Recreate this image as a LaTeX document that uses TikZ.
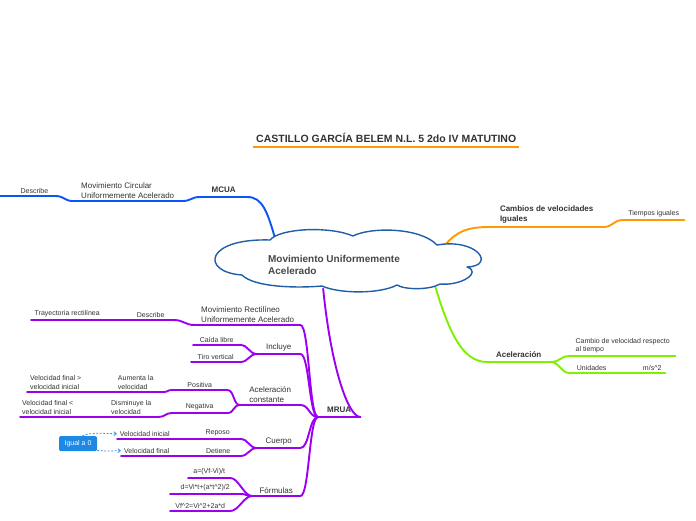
\documentclass[tikz,border=0pt]{standalone}
\usepackage{fontspec}
\setmainfont{Liberation Sans}
\usetikzlibrary{
  arrows.meta,
  shapes.geometric,
  calc
}
\definecolor{mmText}{HTML}{333333}
\definecolor{mmCloud}{HTML}{1F5FA6}
\definecolor{mmBlue}{HTML}{0A55F5}
\definecolor{mmOrange}{HTML}{FF9A00}
\definecolor{mmGreen}{HTML}{80F000}
\definecolor{mmPurple}{HTML}{9B00F0}
\definecolor{mmBox}{HTML}{1E88E5}
\definecolor{mmDash}{HTML}{4A90E2}
\tikzset{
  topic/.style={
    anchor=south west, align=left, inner xsep=0pt, inner ysep=2.5pt,
    text=mmText, font=\fontsize{7}{8.5}\selectfont
  },
  subtopic/.style={topic, font=\fontsize{8}{9.5}\selectfont},
  maintopic/.style={topic, inner ysep=4pt, font=\fontsize{8}{9.5}\selectfont\bfseries},
  centraltext/.style={align=left, text=mmText!90, font=\fontsize{10}{12}\selectfont\bfseries},
  centralcore/.style={ellipse, minimum width=250pt, minimum height=54pt, inner sep=0pt},
  cloudline/.style={draw=mmCloud, fill=white, line width=1.4pt, line join=round},
  notebox/.style={
    fill=mmBox, text=white, rounded corners=1.5pt, minimum width=38pt,
    minimum height=15pt, inner sep=1pt, font=\fontsize{7}{8}\selectfont
  },
  link/.style={line width=1.9pt, line cap=round},
  dashlink/.style={-{Straight Barb[length=2.5pt, width=4pt]}, mmDash, line width=0.8pt,
    dash pattern=on 2pt off 1.5pt}
}
\begin{document}
\begin{tikzpicture}[x=1pt, y=-1pt]
  \path[use as bounding box, fill=white] (0,0) rectangle (696,520);

  % title
  \node[topic, font=\fontsize{10.5}{12}\selectfont\bfseries, minimum width=266pt, inner ysep=4pt] (title) at (253,147) {CASTILLO GARCÍA BELEM N.L. 5 2do IV MATUTINO};
  \draw[line width=1.5pt, mmOrange] (title.south west) -- (title.south east);

  % central topic (the cloud is drawn over the links further down)
  \node[centralcore] (mua) at (348,262) {};

  % blue branch
  \node[maintopic, minimum width=47pt] (mcua) at (200,197) {MCUA};
  \node[subtopic, minimum width=109pt] (mcirc) at (73,201) {Movimiento Circular\\Uniformemente Acelerado};
  \node[topic, text width=41pt, align=right, inner xsep=7pt] (desc1) at (0,196) {Describe};
  \foreach \n in {mcua, mcirc, desc1}
    \draw[link, mmBlue] (\n.south west) -- (\n.south east);
  \draw[link, mmBlue] (mua.163) .. controls +(-8,-28) and +(15,0) .. (mcua.south east);
  \draw[link, mmBlue] (mcua.south west) .. controls +(-9,0) and +(9,0) .. (mcirc.south east);
  \draw[link, mmBlue] (mcirc.south west) .. controls +(-9,0) and +(9,0) .. (desc1.south east);

  % orange branch
  \node[maintopic, minimum width=113pt] (cambios) at (490,227) {Cambios de velocidades\\Iguales};
  \node[topic, minimum width=61pt] (tiempos) at (623,220) {Tiempos iguales};
  \foreach \n in {cambios, tiempos}
    \draw[link, mmOrange] (\n.south west) -- (\n.south east);
  \draw[link, mmOrange] (mua.10) .. controls +(12,-14) and +(-22,0) .. (cambios.south west);
  \draw[link, mmOrange] (cambios.south east) .. controls +(10,0) and +(-10,0) .. (tiempos.south west);

  % green branch
  \node[maintopic, minimum width=63pt] (acel) at (487,362) {Aceleración};
  \node[topic, minimum width=105pt] (cambio) at (570,356) {Cambio de velocidad respecto\\al tiempo};
  \node[topic, minimum width=43pt] (unidades) at (570,373) {Unidades};
  \node[topic, minimum width=26pt] (ms) at (639,373) {m/s\textasciicircum 2};
  \foreach \n in {acel, cambio, unidades, ms}
    \draw[link, mmGreen] (\n.south west) -- (\n.south east);
  \draw[link, mmGreen] (mua.-13) .. controls +(15,50) and +(-25,0) .. (acel.south west);
  \foreach \n in {cambio, unidades}
    \draw[link, mmGreen] (acel.south east) .. controls +(10,0) and +(-10,0) .. (\n.south west);
  \draw[link, mmGreen] (unidades.south east) -- (ms.south west);

  % purple branch
  \node[maintopic, minimum width=42pt] (mrua) at (318,417) {MRUA};
  \node[subtopic, minimum width=105pt] (mrect) at (195,325) {Movimiento Rectilíneo\\Uniformemente Acelerado};
  \node[topic, minimum width=45pt] (desc2) at (128,320) {Describe};
  \node[topic, minimum width=72pt] (tray) at (31,320) {Trayectoria rectilínea};
  \node[subtopic, minimum width=43pt] (incluye) at (257,354) {Incluye};
  \node[topic, minimum width=47pt] (caida) at (193,345) {Caída libre};
  \node[topic, minimum width=49pt] (tiro) at (191,362) {Tiro vertical};
  \node[subtopic, minimum width=60pt] (acons) at (240,405) {Aceleración\\constante};
  \node[topic, minimum width=55pt] (positiva) at (172,390) {Positiva};
  \node[topic, minimum width=55pt] (aumenta) at (108,392) {Aumenta la\\velocidad};
  \node[topic, minimum width=57pt] (vfmayor) at (27,392) {Velocidad final >\\velocidad inicial};
  \node[topic, minimum width=55pt] (negativa) at (172,413) {Negativa};
  \node[topic, minimum width=54pt] (disminuye) at (104,417) {Disminuye la\\velocidad};
  \node[topic, minimum width=55pt] (vfmenor) at (20,417) {Velocidad final <\\velocidad inicial};
  \node[subtopic, minimum width=43pt] (cuerpo) at (257,448) {Cuerpo};
  \node[topic, minimum width=45pt] (reposo) at (195,439) {Reposo};
  \node[topic, minimum width=55pt] (vini) at (117,439) {Velocidad inicial};
  \node[topic, minimum width=44pt] (detiene) at (196,456) {Detiene};
  \node[topic, minimum width=51pt] (vfin) at (121,456) {Velocidad final};
  \node[subtopic, minimum width=48pt] (formulas) at (252,496) {Fórmulas};
  \node[topic, minimum width=42pt] (f1) at (188,478) {a=(Vf-Vi)/t};
  \node[topic, minimum width=70pt] (f2) at (170,494) {d=Vi*t+(a*t\textasciicircum 2)/2};
  \node[topic, minimum width=60pt] (f3) at (170,511) {Vf\textasciicircum 2=Vi\textasciicircum 2+2a*d};
  \foreach \n in {mrua, mrect, desc2, tray, incluye, caida, tiro, acons, positiva, aumenta,
      vfmayor, negativa, disminuye, vfmenor, cuerpo, reposo, vini, detiene, vfin,
      formulas, f1, f2, f3}
    \draw[link, mmPurple] (\n.south west) -- (\n.south east);
  \draw[link, mmPurple] (mua.-133) .. controls +(8,80) and +(-12,0) .. (mrua.south east);
  \foreach \n in {mrect, incluye, acons, cuerpo, formulas}
    \draw[link, mmPurple] (mrua.south west) .. controls +(-9,0) and +(9,0) .. (\n.south east);
  \draw[link, mmPurple] (mrect.south west) .. controls +(-11,0) and +(11,0) .. (desc2.south east);
  \draw[link, mmPurple] (desc2.south west) -- (tray.south east);
  \foreach \n in {caida, tiro}
    \draw[link, mmPurple] (incluye.south west) .. controls +(-8,0) and +(8,0) .. (\n.south east);
  \foreach \n in {positiva, negativa}
    \draw[link, mmPurple] (acons.south west) .. controls +(-7,0) and +(7,0) .. (\n.south east);
  \draw[link, mmPurple] (positiva.south west) .. controls +(-5,0) and +(5,0) .. (aumenta.south east);
  \draw[link, mmPurple] (aumenta.south west) -- (vfmayor.south east);
  \draw[link, mmPurple] (negativa.south west) .. controls +(-7,0) and +(7,0) .. (disminuye.south east);
  \draw[link, mmPurple] (disminuye.south west) -- (vfmenor.south east);
  \foreach \n in {reposo, detiene}
    \draw[link, mmPurple] (cuerpo.south west) .. controls +(-8,0) and +(8,0) .. (\n.south east);
  \draw[link, mmPurple] (reposo.south west) -- (vini.south east);
  \draw[link, mmPurple] (detiene.south west) -- (vfin.south east);
  \foreach \n in {f1, f2, f3}
    \draw[link, mmPurple] (formulas.south west) .. controls +(-8,0) and +(8,0) .. (\n.south east);

  % note
  \node[notebox] (igual) at (78,443.5) {Igual a 0};
  \draw[dashlink] (igual.60) .. controls +(8,-4) and +(-10,0) .. (vini.west);
  \draw[dashlink] (igual.-20) .. controls +(10,1) and +(-8,0) .. (vfin.west);

  % cloud round the central topic
  \draw[cloudline] (242,275)
    .. controls (200,272) and (205,238) .. (270,240)
    .. controls (280,228) and (330,226) .. (353,236)
    .. controls (370,227) and (420,227) .. (437,245)
    .. controls (478,238) and (496,266) .. (467,267)
    .. controls (482,272) and (462,286) .. (440,284)
    .. controls (430,290) and (405,290) .. (397,285)
    .. controls (380,294) and (340,294) .. (322,286)
    .. controls (300,288) and (255,288) .. cycle;
  \node[centraltext] (muatxt) at (334,265) {Movimiento Uniformemente\\Acelerado};
\end{tikzpicture}
\end{document}
